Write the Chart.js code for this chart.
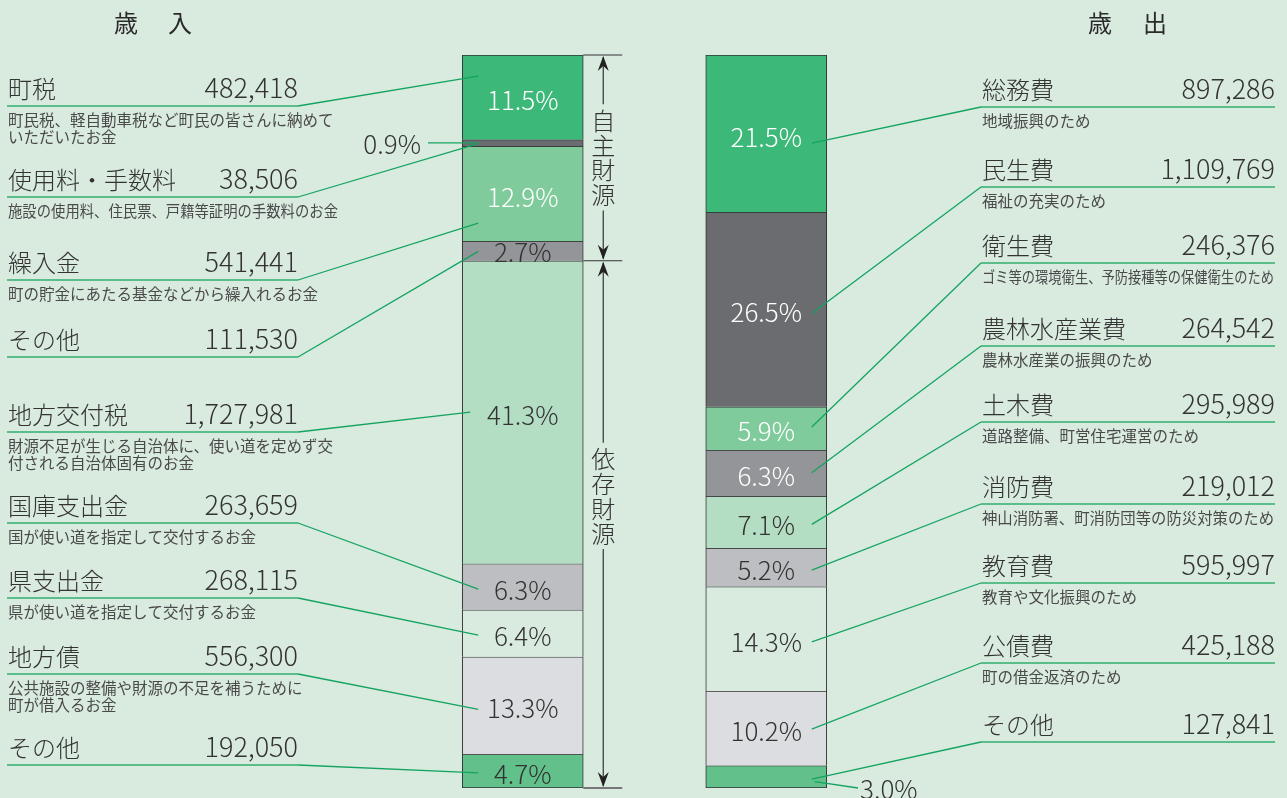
<!DOCTYPE html>
<html lang="ja">
<head>
<meta charset="utf-8">
<title>歳入・歳出</title>
<script src="https://cdn.jsdelivr.net/npm/chart.js@4"></script>
<style>
    html, body {
        margin: 0;
        padding: 0;
        background: #d9eadf;
    }
    .chart-wrap {
        position: relative;
        width: 1287px;
        height: 798px;
        overflow: hidden;
    }
</style>
</head>
<body>
<div class="chart-wrap">
    <canvas id="budgetChart"></canvas>
</div>
<script>
// Data
const revenueNames = ['町税', '使用料・手数料', '繰入金', 'その他', '地方交付税', '国庫支出金', '県支出金', '地方債', 'その他'];
const revenueValues = [482418, 38506, 541441, 111530, 1727981, 263659, 268115, 556300, 192050];
const revenuePct = ['11.5%', '0.9%', '12.9%', '2.7%', '41.3%', '6.3%', '6.4%', '13.3%', '4.7%'];
const revenueNotes = [
    ['町民税、軽自動車税など町民の皆さんに納めて', 'いただいたお金'],
    ['施設の使用料、住民票、戸籍等証明の手数料のお金'],
    ['町の貯金にあたる基金などから繰入れるお金'],
    [],
    ['財源不足が生じる自治体に、使い道を定めず交', '付される自治体固有のお金'],
    ['国が使い道を指定して交付するお金'],
    ['県が使い道を指定して交付するお金'],
    ['公共施設の整備や財源の不足を補うために', '町が借入るお金'],
    []
];

const expenseNames = ['総務費', '民生費', '衛生費', '農林水産業費', '土木費', '消防費', '教育費', '公債費', 'その他'];
const expenseValues = [897286, 1109769, 246376, 264542, 295989, 219012, 595997, 425188, 127841];
const expensePct = ['21.5%', '26.5%', '5.9%', '6.3%', '7.1%', '5.2%', '14.3%', '10.2%', '3.0%'];
const expenseNotes = [
    ['地域振興のため'],
    ['福祉の充実のため'],
    ['ゴミ等の環境衛生、予防接種等の保健衛生のため'],
    ['農林水産業の振興のため'],
    ['道路整備、町営住宅運営のため'],
    ['神山消防署、町消防団等の防災対策のため'],
    ['教育や文化振興のため'],
    ['町の借金返済のため'],
    []
];

const groupTitles = ['歳入', '歳出'];
const fundLabels = ['自主財源', '依存財源'];
const ownSourceCount = 4; // first four revenue items are 自主財源

// Styles / layout
const segmentColors = ['#3cb878', '#6b6c70', '#80cb9b', '#939598', '#b3dec3', '#bdbec1', '#d9ebdf', '#dcdde0', '#62c08a'];
const revenueTextColors = ['#ffffff', '#333333', '#ffffff', '#333333', '#333333', '#333333', '#333333', '#333333', '#333333'];
const expenseTextColors = ['#ffffff', '#ffffff', '#ffffff', '#ffffff', '#333333', '#333333', '#333333', '#333333', '#333333'];
const revenueLineY = [106, 197, 280, 357, 432, 523, 598, 674, 765];
const expenseLineY = [107, 187, 263, 346, 422, 504, 583, 663, 742];
const revenueAnchor = [0.25, 0.6, 0.81, 0.52, 0.5, 0.55, 0.54, 0.54, 0.55];
const expenseAnchor = [0.56, 0.52, 0.47, 0.49, 0.54, 0.57, 0.53, 0.51, 0.6];

const FONT = '"Noto Sans CJK JP", "Noto Sans", sans-serif';
const TEXT = '#333333';
const LEADER = '#14a460';
const UNDERLINE = '#2fae6e';

const total = revenueValues.reduce((a, b) => a + b, 0);

function fmt(v) {
    return v.toLocaleString('en-US');
}

function segBox(el) {
    return {
        top: Math.min(el.y, el.base),
        bottom: Math.max(el.y, el.base),
        left: el.x - el.width / 2,
        right: el.x + el.width / 2,
        cx: el.x
    };
}

function line(ctx, x1, y1, x2, y2, color, width) {
    ctx.save();
    ctx.strokeStyle = color;
    ctx.lineWidth = width;
    ctx.beginPath();
    ctx.moveTo(x1, y1);
    ctx.lineTo(x2, y2);
    ctx.stroke();
    ctx.restore();
}

function arrowHead(ctx, x, y, dir) {
    // dir = -1 points up, 1 points down
    ctx.save();
    ctx.fillStyle = '#222';
    ctx.beginPath();
    ctx.moveTo(x, y);
    ctx.lineTo(x - 5.5, y - dir * 15);
    ctx.lineTo(x, y - dir * 10);
    ctx.lineTo(x + 5.5, y - dir * 15);
    ctx.closePath();
    ctx.fill();
    ctx.restore();
}

function fundBracket(ctx, x, top, bottom, label) {
    const step = 24.8;
    const mid = (top + bottom) / 2 - (label === '依存財源' ? 28 : 0);
    const textTop = mid - step * label.length / 2;
    const textBottom = mid + step * label.length / 2;
    line(ctx, x, top + 2, x, textTop - 4, '#333', 1.2);
    line(ctx, x, textBottom + 3, x, bottom - 2, '#333', 1.2);
    arrowHead(ctx, x, top + 1, -1);
    arrowHead(ctx, x, bottom - 1, 1);
    ctx.save();
    ctx.fillStyle = TEXT;
    ctx.font = '300 24px ' + FONT;
    ctx.textAlign = 'center';
    ctx.textBaseline = 'middle';
    for (let i = 0; i < label.length; i++) {
        ctx.fillText(label[i], x, textTop + step * (i + 0.5));
    }
    ctx.restore();
}

function drawItem(ctx, name, value, notes, x1, x2, lineY, noteWidth) {
    ctx.save();
    ctx.fillStyle = TEXT;
    ctx.textBaseline = 'alphabetic';
    ctx.font = '300 24px ' + FONT;
    ctx.textAlign = 'left';
    ctx.fillText(name, x1 + 1, lineY - 8);
    ctx.font = '300 27px ' + FONT;
    ctx.textAlign = 'right';
    ctx.fillText(fmt(value), x2, lineY - 8);
    ctx.font = '15.5px ' + FONT;
    ctx.textAlign = 'left';
    ctx.textBaseline = 'top';
    ctx.fillStyle = '#4a4a4a';
    notes.forEach((t, k) => {
        ctx.fillText(t, x1 + 1, lineY + 6 + k * 17, noteWidth);
    });
    ctx.restore();
    line(ctx, x1, lineY, x2, lineY, UNDERLINE, 1.6);
}

// Labels, leader lines and brackets
const annotationPlugin = {
    id: 'annotations',
    afterDatasetsDraw(chart) {
        const ctx = chart.ctx;
        const n = chart.data.datasets.length;
        const rev = [];
        const exp = [];
        for (let i = 0; i < n; i++) {
            const meta = chart.getDatasetMeta(i);
            rev.push(segBox(meta.data[0]));
            exp.push(segBox(meta.data[1]));
        }

        // titles
        ctx.save();
        ctx.fillStyle = '#2a2a2a';
        ctx.font = '400 24px ' + FONT;
        ctx.textAlign = 'center';
        ctx.textBaseline = 'middle';
        ctx.fillText(groupTitles[0][0], 126, 23);
        ctx.fillText(groupTitles[0][1], 180, 23);
        ctx.fillText(groupTitles[1][0], 1100, 23);
        ctx.fillText(groupTitles[1][1], 1155, 23);
        ctx.restore();

        // revenue side
        revenueNames.forEach((name, i) => {
            const b = rev[i];
            drawItem(ctx, name, revenueValues[i], revenueNotes[i], 7, 298, revenueLineY[i], 330);
            const ey = b.top + (b.bottom - b.top) * revenueAnchor[i];
            const ex = i === 4 ? b.left + 8 : b.left + 16;
            line(ctx, 298, revenueLineY[i], ex, ey, LEADER, 1.3);
        });

        // expense side
        expenseNames.forEach((name, i) => {
            const b = exp[i];
            drawItem(ctx, name, expenseValues[i], expenseNotes[i], 981, 1275, expenseLineY[i], 292);
            const ey = b.top + (b.bottom - b.top) * expenseAnchor[i];
            line(ctx, 981, expenseLineY[i], b.right - 15, ey, LEADER, 1.3);
        });

        // percentages inside bars
        ctx.save();
        ctx.font = '300 26px ' + FONT;
        ctx.textAlign = 'center';
        ctx.textBaseline = 'middle';
        revenuePct.forEach((p, i) => {
            const b = rev[i];
            const cy = (b.top + b.bottom) / 2;
            if (b.bottom - b.top < 12) {
                // thin slice: label outside with a short leader
                line(ctx, 428, cy, b.left + 16, cy, LEADER, 1.3);
                ctx.fillStyle = TEXT;
                ctx.textAlign = 'right';
                ctx.fillText(p, 421, cy + 1);
                ctx.textAlign = 'center';
                return;
            }
            ctx.fillStyle = revenueTextColors[i];
            ctx.fillText(p, b.cx, cy + (b.bottom - b.top > 30 ? 3 : 1));
        });
        expensePct.forEach((p, i) => {
            const b = exp[i];
            const cy = (b.top + b.bottom) / 2;
            if (i === expensePct.length - 1) {
                line(ctx, b.right - 12, b.top + (b.bottom - b.top) * 0.72, 858, b.bottom, LEADER, 1.3);
                ctx.fillStyle = TEXT;
                ctx.textAlign = 'left';
                ctx.fillText(p, 860, b.bottom + 1);
                ctx.textAlign = 'center';
                return;
            }
            ctx.fillStyle = expenseTextColors[i];
            ctx.fillText(p, b.cx, cy + 3);
        });
        ctx.restore();

        // fund brackets
        const tickL = rev[0].right;
        const tickR = tickL + 39;
        const ax = tickL + 20;
        const ownBottom = rev[ownSourceCount - 1].bottom;
        const depBottom = rev[n - 1].bottom;
        line(ctx, tickL, rev[0].top, tickR, rev[0].top, '#333', 1);
        line(ctx, tickL, ownBottom, tickR, ownBottom, '#333', 1);
        line(ctx, tickL, depBottom, tickR, depBottom, '#777', 2);
        fundBracket(ctx, ax, rev[0].top, ownBottom, fundLabels[0]);
        fundBracket(ctx, ax, ownBottom, depBottom, fundLabels[1]);
    }
};

// Datasets: one per stacked slice, shared by both bars
const datasets = revenueValues.map((v, i) => ({
    label: revenueNames[i] + ' / ' + expenseNames[i],
    data: [revenueValues[i], expenseValues[i]],
    backgroundColor: segmentColors[i],
    borderColor: '#333333',
    borderWidth: { top: 1, left: 1, right: 1, bottom: i === revenueValues.length - 1 ? 1 : 0 },
    borderSkipped: false,
    barThickness: 121
}));

// Initialize Chart
document.addEventListener('DOMContentLoaded', () => {
    const ctx = document.getElementById('budgetChart').getContext('2d');
    new Chart(ctx, {
        type: 'bar',
        data: {
            labels: groupTitles,
            datasets: datasets
        },
        options: {
            responsive: true,
            maintainAspectRatio: false,
            animation: false,
            devicePixelRatio: 1,
            layout: {
                padding: { left: 401, right: 399, top: 55, bottom: 10 }
            },
            scales: {
                x: { stacked: true, display: false },
                y: { stacked: true, display: false, reverse: true, min: 0, max: total }
            },
            plugins: {
                legend: { display: false },
                tooltip: { enabled: false }
            }
        },
        plugins: [annotationPlugin]
    });
});
</script>
</body>
</html>
